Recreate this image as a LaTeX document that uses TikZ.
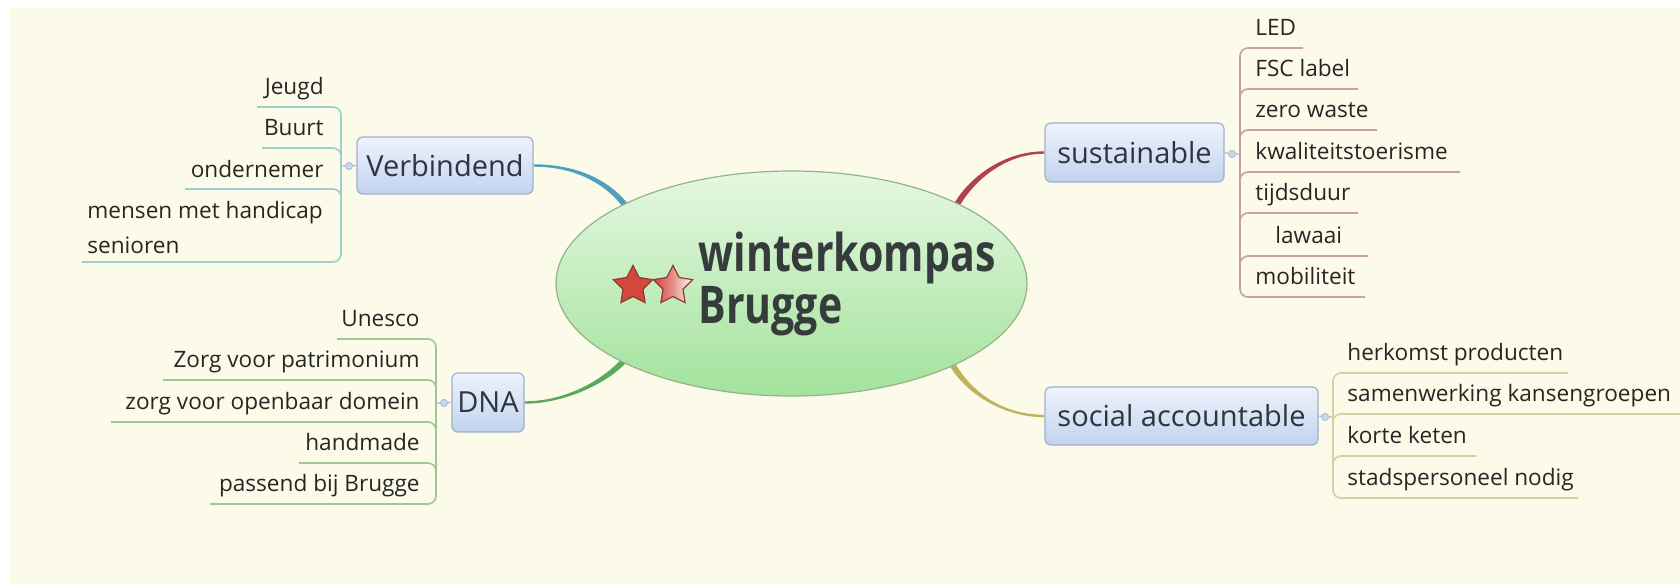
\documentclass[tikz,border=0pt]{standalone}
\usepackage{fontspec}
\setmainfont{Open Sans}
\newfontfamily\titlefont[FakeStretch=0.79]{Open Sans}
\usetikzlibrary{shapes.geometric,calc}
\pgfdeclarelayer{bg}
\pgfsetlayers{bg,main}
\definecolor{cream}{HTML}{FCFBE9}
\definecolor{boxtop}{HTML}{EEF3FC}
\definecolor{boxbot}{HTML}{C2D3EF}
\definecolor{boxborder}{HTML}{9FB0CC}
\definecolor{elltop}{HTML}{E5F8E1}
\definecolor{ellbot}{HTML}{A3E29C}
\definecolor{ellborder}{HTML}{8FB58B}
\definecolor{titlegray}{HTML}{363B3B}
\definecolor{leaftext}{HTML}{262626}
\definecolor{boxtext}{HTML}{2E3440}
\definecolor{cV}{HTML}{4FA0BE}
\definecolor{cD}{HTML}{5BAA5C}
\definecolor{cS}{HTML}{B0434E}
\definecolor{cSo}{HTML}{BEB35C}
\definecolor{bV}{HTML}{9ECFD0}
\definecolor{bD}{HTML}{9CC894}
\definecolor{bS}{HTML}{C8A0A0}
\definecolor{bSo}{HTML}{D4D0A0}
\definecolor{dotfill}{HTML}{C8D6EA}
\definecolor{dotdraw}{HTML}{A8BCD8}
\definecolor{starred}{HTML}{D4473C}
\definecolor{stardark}{HTML}{8E3A30}
\begin{document}
\begin{tikzpicture}[x=0.5pt,y=-0.5pt,
  topic/.style={rectangle, rounded corners=3pt, draw=boxborder, line width=0.6pt,
    top color=boxtop, bottom color=boxbot, inner sep=0,
    font=\fontsize{14.5}{17}\selectfont, text=boxtext},
  leafL/.style={anchor=south east, inner sep=0, text depth=6pt,
    font=\fontsize{11.3}{13}\selectfont, text=leaftext},
  leafR/.style={anchor=south west, inner sep=0, text depth=6pt,
    font=\fontsize{11.3}{13}\selectfont, text=leaftext},
  dotc/.style={circle, minimum size=3.6pt, inner sep=0, fill=dotfill, draw=dotdraw, line width=0.4pt},
  dotline/.style={draw=dotdraw, line width=0.6pt},
  bracket/.style={line width=0.8pt, rounded corners=4},
  starnode/.style={star, star points=5, star point ratio=1.95, minimum size=20.5pt,
    inner sep=0, draw=stardark, line width=0.6pt}
]
\useasboundingbox (0,0) rectangle (1680,584);

% central topic
\node[ellipse, minimum width=235.5pt, minimum height=112.5pt, inner sep=0,
  draw=ellborder, line width=0.6pt, top color=elltop, bottom color=ellbot] (center) at (791.5,283.5) {};
\node[anchor=base west, align=left, inner sep=0, text=titlegray,
  font=\titlefont\bfseries\fontsize{26}{24}\selectfont] (title) at (698,323) {winterkompas\\Brugge};
\node[starnode, fill=starred] (s1) at (633,286) {};
\node[starnode, left color=starred, right color=white, middle color=starred!60!white] (s2) at (673,286) {};

% main topics
\node[topic, minimum width=88pt, minimum height=28.5pt] (vb) at (445,165.5) {Verbindend};
\node[topic, minimum width=36pt, minimum height=29.5pt] (dna) at (488,402.5) {DNA};
\node[topic, minimum width=89.5pt, minimum height=29.5pt] (sus) at (1134.5,152.5) {sustainable};
\node[topic, minimum width=136.5pt, minimum height=29pt] (soc) at (1181.5,416) {social accountable};

% collapse dots
\node[dotc] (d1) at (349,166) {};
\node[dotc] (d2) at (444,403) {};
\node[dotc] (d3) at (1232,154) {};
\node[dotc] (d4) at (1325,417) {};
\coordinate (v1) at (341,166);
\coordinate (v2) at (436,403);
\coordinate (v3) at (1240,154);
\coordinate (v4) at (1333,417);
\draw[dotline] (vb.west) -- (d1) -- (v1);
\draw[dotline] (dna.west) -- (d2) -- (v2);
\draw[dotline] (sus.east) -- (d3) -- (v3);
\draw[dotline] (soc.east) -- (d4) -- (v4);

% Verbindend leaves
\node[leafL] (j1) at (324,107) {Jeugd};
\node[leafL] (j2) at (324,148) {Buurt};
\node[leafL] (j3) at (324,190) {ondernemer};
\node[anchor=base west, align=left, inner sep=0, text=leaftext,
  font=\fontsize{11.3}{17.5}\selectfont] (j4) at (87,253) {mensen met handicap\\senioren};
\draw[bracket, bV] (257,107) -| (341,262) -- (82,262);
\draw[bracket, bV] (262,148) -| (341,158);
\draw[bracket, bV] (185,189) -| (341,199);

% DNA leaves
\node[leafL] (n1) at (420,339) {Unesco};
\node[leafL] (n2) at (420,380) {Zorg voor patrimonium};
\node[leafL] (n3) at (420,422) {zorg voor openbaar domein};
\node[leafL] (n4) at (420,463) {handmade};
\node[leafL] (n5) at (420,504) {passend bij Brugge};
\draw[bracket, bD] (337,339) -| (436,504) -- (210,504);
\draw[bracket, bD] (163,380) -| (436,390);
\draw[bracket, bD] (111,422) -| (436,432);
\draw[bracket, bD] (299,463) -| (436,473);

% sustainable leaves
\node[leafR] (u1) at (1255,48) {LED};
\node[leafR] (u2) at (1255,89) {FSC label};
\node[leafR] (u3) at (1255,130) {zero waste};
\node[leafR] (u4) at (1255,172) {kwaliteitstoerisme};
\node[leafR] (u5) at (1255,213) {tijdsduur};
\node[leafR] (u6) at (1275,256) {lawaai};
\node[leafR] (u7) at (1255,297) {mobiliteit};
\draw[bracket, bS] (1303,48) -| (1240,297) -- (1365,297);
\draw[bracket, bS] (1358,89) -| (1240,99);
\draw[bracket, bS] (1377,130) -| (1240,140);
\draw[bracket, bS] (1460,172) -| (1240,182);
\draw[bracket, bS] (1358,213) -| (1240,223);
\draw[bracket, bS] (1368,256) -| (1240,266);

% social leaves
\node[leafR] (o1) at (1347,373) {herkomst producten};
\node[leafR] (o2) at (1347,414) {samenwerking kansengroepen};
\node[leafR] (o3) at (1347,456) {korte keten};
\node[leafR] (o4) at (1347,498) {stadspersoneel nodig};
\draw[bracket, bSo] (1568,373) -| (1333,498) -- (1578,498);
\draw[bracket, bSo] (1680,414) -| (1333,424);
\draw[bracket, bSo] (1476,456) -| (1333,466);

% background and main connectors
\coordinate (e1) at (630,212);
\coordinate (e2) at (628,356);
\coordinate (e3) at (955,208);
\coordinate (e4) at (950,360);
\begin{pgfonlayer}{bg}
\fill[white] (0,0) rectangle (1680,584);
\fill[cream] (10,8) rectangle (1680,584);
\fill[cV] ($(vb.east)+(0,-1.2)$) .. controls +(46,0) and +(-18,-28) .. ($(e1)+(2.5,-1.6)$)
  -- ($(e1)+(-2.5,1.6)$) .. controls +(-18,-28) and +(44,0) .. ($(vb.east)+(0,1.2)$) -- cycle;
\fill[cD] ($(dna.east)+(0,-1.2)$) .. controls +(42,0) and +(-20,25) .. ($(e2)+(-2.3,-1.9)$)
  -- ($(e2)+(2.3,1.9)$) .. controls +(-20,25) and +(40,0) .. ($(dna.east)+(0,1.2)$) -- cycle;
\fill[cS] ($(sus.west)+(0,-1.2)$) .. controls +(-42,0) and +(15,-28) .. ($(e3)+(-2.6,-1.4)$)
  -- ($(e3)+(2.6,1.4)$) .. controls +(15,-28) and +(-40,0) .. ($(sus.west)+(0,1.2)$) -- cycle;
\fill[cSo] ($(soc.west)+(0,-1.2)$) .. controls +(-45,0) and +(15,30) .. ($(e4)+(2.7,-1.35)$)
  -- ($(e4)+(-2.7,1.35)$) .. controls +(15,30) and +(-43,0) .. ($(soc.west)+(0,1.2)$) -- cycle;
\end{pgfonlayer}
\end{tikzpicture}
\end{document}
